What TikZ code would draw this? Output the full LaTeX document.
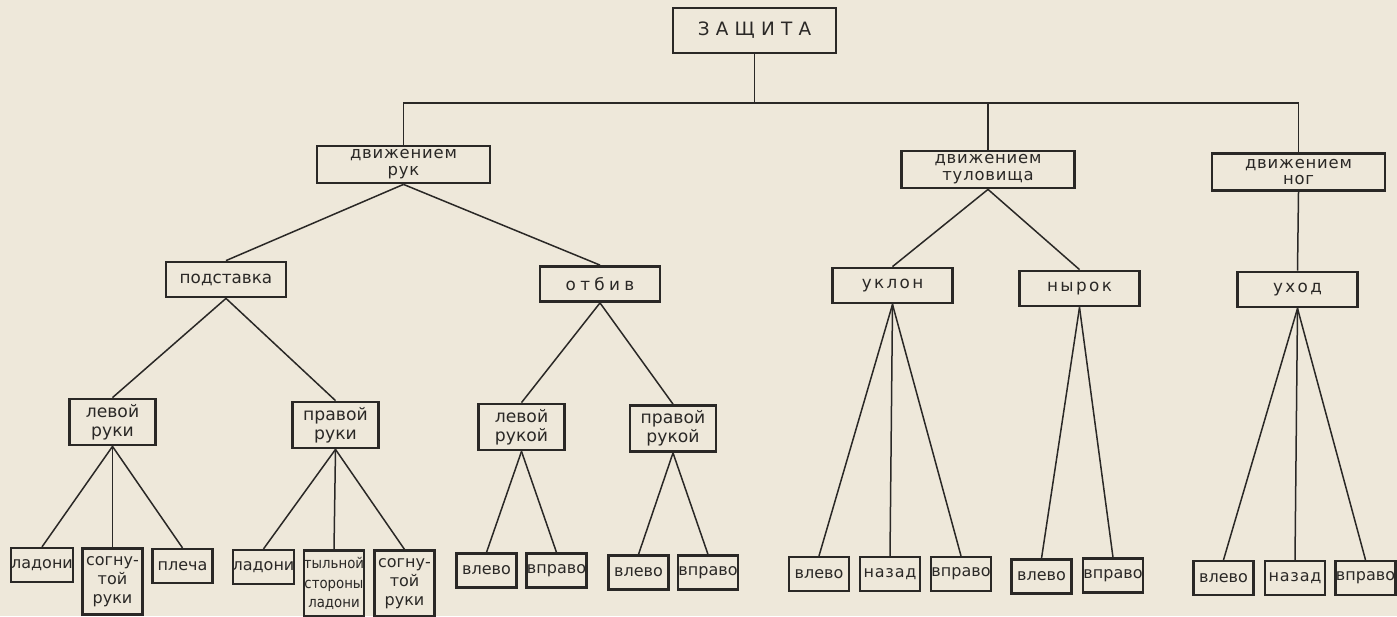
\documentclass[tikz,border=0pt]{standalone}
\usepackage{fontspec}
\setmainfont{DejaVu Sans}
\newfontfamily\narrowfont{DejaVu Sans Condensed}
\newfontfamily\spacedfont[LetterSpace=5]{DejaVu Sans}
\newfontfamily\widefont[LetterSpace=14]{DejaVu Sans}
\newfontfamily\widerfont[LetterSpace=26]{DejaVu Sans}
\newfontfamily\rootfont[LetterSpace=34]{DejaVu Sans}
\usetikzlibrary{positioning}
\definecolor{paper}{HTML}{EEE8DA}
\definecolor{ink}{HTML}{2A2826}
\tikzset{
  box/.style={draw=ink, line width=1.4pt, fill=paper, text=ink,
    inner sep=0pt, align=center},
  rootbox/.style={box, minimum width=81.5pt, minimum height=22.5pt,
    font=\rootfont\fontsize{9.2}{11}\selectfont},
  groupbox/.style={box, minimum width=86.5pt, minimum height=18.5pt,
    font=\spacedfont\fontsize{8.2}{8.4}\selectfont},
  kindbox/.style={box, minimum width=60pt, minimum height=17.5pt,
    font=\fontsize{8.4}{10}\selectfont},
  handbox/.style={box, minimum width=43pt, minimum height=23pt,
    font=\fontsize{8.6}{9.6}\selectfont},
  leafbox/.style={box, line width=1.1pt, minimum width=30pt, minimum height=17pt,
    font=\fontsize{8}{9.6}\selectfont},
  tallbox/.style={leafbox, minimum height=33pt},
  link/.style={draw=ink, line width=0.75pt}
}

\begin{document}
\begin{tikzpicture}[x=0.5pt, y=-0.5pt]

  \fill[paper] (0,0) rectangle (1397,616);
  \useasboundingbox (0,0) rectangle (1397,616);

  %% top of the tree
  \node[rootbox] (zash) at (754.5,30.5) {ЗАЩИТА};
  \coordinate (bus) at (754.5,103);

  \node[groupbox] (ruk) at (403.5,164.5) {движением\\рук};
  \node[groupbox] (tul) at (988,169.5) {движением\\туловища};
  \node[groupbox] (nog) at (1298.5,172) {движением\\ног};

  %% second row
  \node[kindbox] (podst) at (226,279.5) {подставка};
  \node[kindbox, font=\widerfont\fontsize{8.4}{10}\selectfont] (otbiv) at (600,284) {отбив};
  \node[kindbox, font=\widefont\fontsize{8.4}{10}\selectfont] (uklon) at (892.5,285.5) {уклон};
  \node[kindbox, font=\widefont\fontsize{8.4}{10}\selectfont] (nyrok) at (1079.5,288.5) {нырок};
  \node[kindbox, font=\widefont\fontsize{8.4}{10}\selectfont] (uhod) at (1297.5,289.5) {уход};

  %% hands
  \node[handbox] (lruki) at (112.5,422) {левой\\руки};
  \node[handbox] (pruki) at (335.5,425) {правой\\руки};
  \node[handbox] (lrukoj) at (521.5,427) {левой\\рукой};
  \node[handbox] (prukoj) at (673,428.5) {правой\\рукой};

  %% leaves
  \node[leafbox] (lr-lad) at (42,565) {ладони};
  \node[tallbox] (lr-sog) at (112.5,581.5) {согну-\\той\\руки};
  \node[leafbox] (lr-ple) at (182.5,566) {плеча};
  \node[leafbox] (pr-lad) at (263.5,567) {ладони};
  \node[tallbox, font=\narrowfont\fontsize{7.4}{9.6}\selectfont] (pr-tyl) at (334,583.5)
    {тыльной\\стороны\\ладони};
  \node[tallbox] (pr-sog) at (404.5,583.5) {согну-\\той\\руки};

  \node[leafbox] (lk-vl) at (486.5,570.5) {влево};
  \node[leafbox] (lk-vp) at (556.5,570.5) {вправо};
  \node[leafbox] (pk-vl) at (638.5,572.5) {влево};
  \node[leafbox] (pk-vp) at (708,572.5) {вправо};

  \node[leafbox] (uk-vl) at (819,574) {влево};
  \node[leafbox, font=\spacedfont\fontsize{8}{9.6}\selectfont] (uk-naz) at (890,574) {назад};
  \node[leafbox] (uk-vp) at (961,574) {вправо};
  \node[leafbox] (ny-vl) at (1041.5,576.5) {влево};
  \node[leafbox] (ny-vp) at (1113,575.5) {вправо};
  \node[leafbox] (uh-vl) at (1223.5,578) {влево};
  \node[leafbox, font=\spacedfont\fontsize{8}{9.6}\selectfont] (uh-naz) at (1295,578) {назад};
  \node[leafbox] (uh-vp) at (1365.5,578) {вправо};

  %% connectors
  \draw[link] (zash) -- (bus);
  \draw[link] (ruk.north) -- (ruk.north |- bus) -- (nog.north |- bus) -- (nog.north);
  \draw[link] (tul.north) -- (tul.north |- bus);

  \draw[link] (ruk.south) -- (podst.north);
  \draw[link] (ruk.south) -- (otbiv.north);
  \draw[link] (tul.south) -- (uklon.north);
  \draw[link] (tul.south) -- (nyrok.north);
  \draw[link] (nog.south) -- (uhod.north);

  \draw[link] (podst.south) -- (lruki.north);
  \draw[link] (podst.south) -- (pruki.north);
  \draw[link] (otbiv.south) -- (lrukoj.north);
  \draw[link] (otbiv.south) -- (prukoj.north);

  \draw[link] (lruki.south) -- (lr-lad.north);
  \draw[link] (lruki.south) -- (lr-sog.north);
  \draw[link] (lruki.south) -- (lr-ple.north);
  \draw[link] (pruki.south) -- (pr-lad.north);
  \draw[link] (pruki.south) -- (pr-tyl.north);
  \draw[link] (pruki.south) -- (pr-sog.north);

  \draw[link] (lrukoj.south) -- (lk-vl.north);
  \draw[link] (lrukoj.south) -- (lk-vp.north);
  \draw[link] (prukoj.south) -- (pk-vl.north);
  \draw[link] (prukoj.south) -- (pk-vp.north);

  \draw[link] (uklon.south) -- (uk-vl.north);
  \draw[link] (uklon.south) -- (uk-naz.north);
  \draw[link] (uklon.south) -- (uk-vp.north);
  \draw[link] (nyrok.south) -- (ny-vl.north);
  \draw[link] (nyrok.south) -- (ny-vp.north);
  \draw[link] (uhod.south) -- (uh-vl.north);
  \draw[link] (uhod.south) -- (uh-naz.north);
  \draw[link] (uhod.south) -- (uh-vp.north);

\end{tikzpicture}
\end{document}
